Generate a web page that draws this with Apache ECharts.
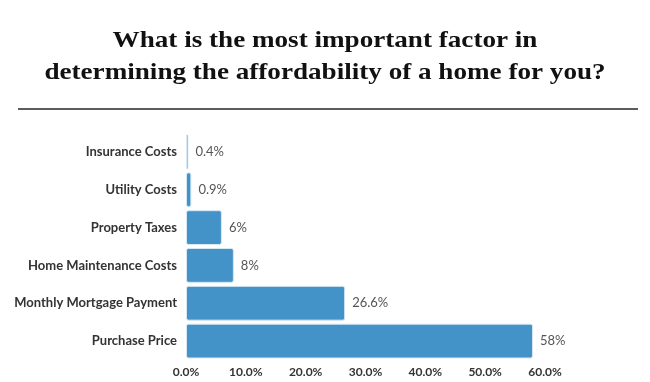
<!DOCTYPE html>
<html>
<head>
<meta charset="utf-8">
<script src="https://cdn.jsdelivr.net/npm/echarts@6/dist/echarts.min.js"></script>
<style>
html,body{margin:0;padding:0;background:#fff;}
#chart{width:650px;height:382px;}
</style>
</head>
<body>
<div id="chart"></div>
<script>
const titleLines = ["What is the most important factor in", "determining the affordability of a home for you?"];
const categories = ["Insurance Costs", "Utility Costs", "Property Taxes", "Home Maintenance Costs", "Monthly Mortgage Payment", "Purchase Price"];
const values = [0.4, 0.9, 6, 8, 26.6, 58];
const valueLabels = ["0.4%", "0.9%", "6%", "8%", "26.6%", "58%"];
const xTicks = [0, 10, 20, 30, 40, 50, 60];

const titleStyle = {
  fontFamily: 'Liberation Serif',
  fontWeight: 'bold',
  fontSize: 24,
  fill: '#111',
  align: 'center',
  verticalAlign: 'top'
};

const chart = echarts.init(document.getElementById('chart'));
chart.setOption({
  animation: false,
  backgroundColor: '#fff',
  graphic: [
    {
      type: 'text', x: 325, y: 29, scaleX: 1.13,
      style: Object.assign({text: titleLines[0]}, titleStyle)
    },
    {
      type: 'text', x: 325, y: 61, scaleX: 1.13,
      style: Object.assign({text: titleLines[1]}, titleStyle)
    },
    {
      type: 'line',
      shape: {x1: 18, y1: 109, x2: 638, y2: 109},
      style: {stroke: '#5c5c5c', lineWidth: 2}
    }
  ],
  grid: {left: 186, right: 105, top: 133, bottom: 22, containLabel: false},
  xAxis: {
    type: 'value',
    min: 0, max: 60, interval: 10,
    axisLine: {show: false},
    axisTick: {show: false},
    splitLine: {show: false},
    axisLabel: {
      margin: 6,
      fontFamily: 'Lato',
      fontWeight: 'bold',
      fontSize: 12,
      color: '#333',
      formatter: v => xTicks.includes(v) ? v.toFixed(1) + '%' : ''
    }
  },
  yAxis: {
    type: 'category',
    data: categories,
    inverse: true,
    axisLine: {show: false},
    axisTick: {show: false},
    axisLabel: {
      margin: 9,
      fontFamily: 'Lato',
      fontWeight: 'bold',
      fontSize: 13,
      color: '#333'
    }
  },
  series: [{
    type: 'bar',
    data: values,
    barCategoryGap: '8%',
    itemStyle: {
      color: '#4393c8',
      borderRadius: 2,
      borderColor: '#d6e8f4',
      borderWidth: 1
    },
    label: {
      show: true,
      position: 'right',
      distance: 7,
      fontFamily: 'Lato',
      fontSize: 13,
      color: '#555',
      formatter: p => valueLabels[p.dataIndex]
    }
  }]
});
</script>
</body>
</html>
